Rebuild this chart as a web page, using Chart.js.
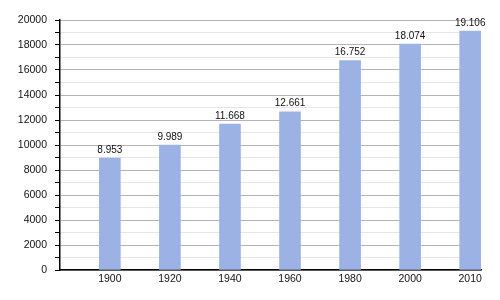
<!DOCTYPE html>
<html lang="en">
<head>
    <meta charset="UTF-8">
    <script src="https://cdn.jsdelivr.net/npm/chart.js"></script>
    <title>Population</title>
    <style>
        html, body { margin: 0; padding: 0; background: #fff; }
        #wrap { width: 500px; height: 300px; }
    </style>
</head>
<body>
    <div id="wrap"><canvas id="popChart" width="500" height="300"></canvas></div>
    <script>
        const years = ['1900', '1920', '1940', '1960', '1980', '2000', '2010'];
        const population = [8953, 9989, 11668, 12661, 16752, 18074, 19106];
        const yTicks = [0, 2000, 4000, 6000, 8000, 10000, 12000, 14000, 16000, 18000, 20000];

        // writes the value above each bar, e.g. "8.953"
        const valueLabels = {
            id: 'valueLabels',
            afterDatasetsDraw(chart) {
                const ctx = chart.ctx;
                const meta = chart.getDatasetMeta(0);
                ctx.save();
                ctx.font = '10px "Liberation Sans", Arial, sans-serif';
                ctx.fillStyle = '#111';
                ctx.textAlign = 'center';
                ctx.textBaseline = 'bottom';
                meta.data.forEach((bar, i) => {
                    const txt = (population[i] / 1000).toFixed(3);
                    ctx.fillText(txt, bar.x, bar.y - 3);
                });
                ctx.restore();
            }
        };

        const ctx = document.getElementById('popChart').getContext('2d');
        new Chart(ctx, {
            type: 'bar',
            data: {
                datasets: [{
                    data: population.map((v, i) => ({ x: i, y: v })),
                    backgroundColor: '#9cb2e5',
                    barThickness: 21
                }]
            },
            options: {
                responsive: false,
                animation: false,
                layout: { padding: { top: 20, right: 19, left: 0, bottom: 0 } },
                plugins: { legend: { display: false }, tooltip: { enabled: false } },
                scales: {
                    x: {
                        type: 'linear',
                        offset: false,
                        min: -0.83,
                        max: 6.18,
                        afterBuildTicks: scale => {
                            scale.ticks = years.map((_, i) => ({ value: i }));
                        },
                        afterFit: scale => { scale.height = 30; },
                        ticks: {
                            callback: value => years[value],
                            color: '#111',
                            font: { family: '"Liberation Sans", Arial, sans-serif', size: 10.5 },
                            padding: 3,
                            maxRotation: 0
                        },
                        grid: { drawOnChartArea: false, drawTicks: false },
                        border: { color: '#000', width: 1.5 }
                    },
                    y: {
                        min: 0,
                        max: 20000,
                        afterBuildTicks: scale => {
                            const t = [];
                            for (let v = 0; v <= 20000; v += 1000) t.push({ value: v });
                            scale.ticks = t;
                        },
                        afterFit: scale => { scale.width = 60; },
                        ticks: {
                            callback: value => yTicks.includes(value) ? value : '',
                            color: '#111',
                            font: { family: '"Liberation Sans", Arial, sans-serif', size: 10.5 },
                            padding: 8,
                            autoSkip: false
                        },
                        grid: {
                            color: c => yTicks.includes(c.tick.value) ? '#b4b4b4' : '#e6e6e6',
                            tickColor: '#000',
                            tickLength: 5
                        },
                        border: { color: '#000', width: 1.5 }
                    }
                }
            },
            plugins: [valueLabels]
        });
    </script>
</body>
</html>
